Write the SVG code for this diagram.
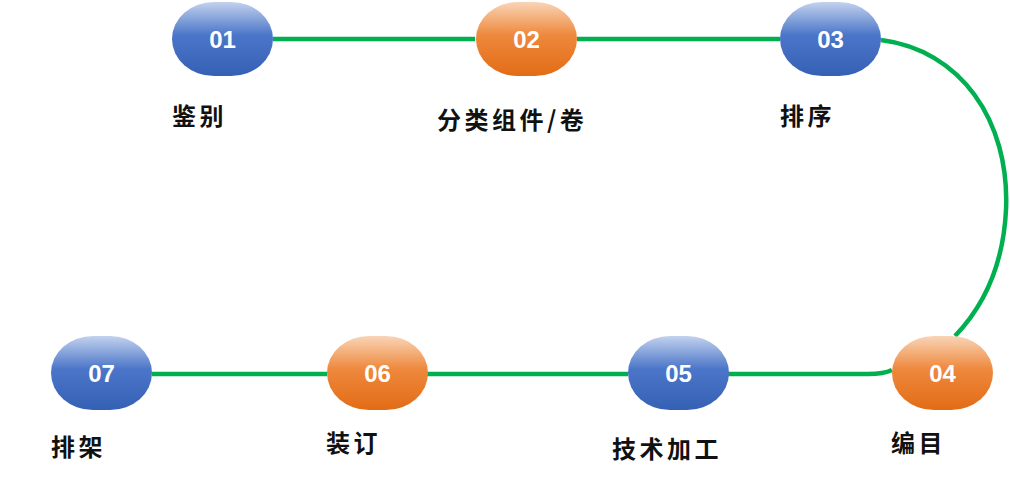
<svg xmlns="http://www.w3.org/2000/svg" width="1010" height="478" viewBox="0 0 1010 478">
<defs>
<linearGradient id="gBlue" x1="0" y1="0" x2="0" y2="1">
<stop offset="0" stop-color="#C3D2EE"/>
<stop offset="0.45" stop-color="#4A75C8"/>
<stop offset="1" stop-color="#3561B5"/>
</linearGradient>
<linearGradient id="gOrange" x1="0" y1="0" x2="0" y2="1">
<stop offset="0" stop-color="#F9D4B7"/>
<stop offset="0.45" stop-color="#EE883C"/>
<stop offset="1" stop-color="#E26C16"/>
</linearGradient>
<style>
.blue{fill:url(#gBlue)}
.orange{fill:url(#gOrange)}
.num{font-family:"Liberation Sans",Arial,sans-serif;font-weight:bold;font-size:24px;fill:#fff;text-anchor:middle}
.lbl{font-family:"Noto Sans CJK SC",sans-serif;font-weight:bold;font-size:24px;fill:#111;letter-spacing:3.5px}
.conn{fill:none;stroke:#00B050;stroke-width:4.5}
</style>
</defs>
<rect width="1010" height="478" fill="#fff"/>
<g id="connectors">
<path class="conn" d="M273 39 L475 39"/>
<path class="conn" d="M577 39 L780 39"/>
<path class="conn" d="M881 40 C960 50 1010 120 1006 210 C1003 270 980 310 955 336"/>
<path class="conn" d="M892 370 Q884 374 868 374 L728 374"/>
<path class="conn" d="M628 374 L427 374"/>
<path class="conn" d="M327 374 L152 374"/>
</g>
<g id="node01"><rect class="blue" x="172" y="2" width="101" height="74" rx="42" ry="37"/><text class="num" x="222.5" y="48">01</text><text class="lbl" x="172" y="125">鉴别</text></g>
<g id="node02"><rect class="orange" x="476" y="2" width="101" height="74" rx="42" ry="37"/><text class="num" x="526.5" y="48">02</text><text class="lbl" x="437" y="129">分类组件/卷</text></g>
<g id="node03"><rect class="blue" x="780" y="2" width="101" height="74" rx="42" ry="37"/><text class="num" x="830.5" y="48">03</text><text class="lbl" x="780" y="125">排序</text></g>
<g id="node04"><rect class="orange" x="892" y="336" width="101" height="74" rx="42" ry="37"/><text class="num" x="942.5" y="382">04</text><text class="lbl" x="891" y="452">编目</text></g>
<g id="node05"><rect class="blue" x="628" y="336" width="101" height="74" rx="42" ry="37"/><text class="num" x="678.5" y="382">05</text><text class="lbl" x="612" y="458">技术加工</text></g>
<g id="node06"><rect class="orange" x="327" y="336" width="101" height="74" rx="42" ry="37"/><text class="num" x="377.5" y="382">06</text><text class="lbl" x="326" y="452">装订</text></g>
<g id="node07"><rect class="blue" x="51" y="336" width="101" height="74" rx="42" ry="37"/><text class="num" x="101.5" y="382">07</text><text class="lbl" x="51" y="456">排架</text></g>
</svg>
